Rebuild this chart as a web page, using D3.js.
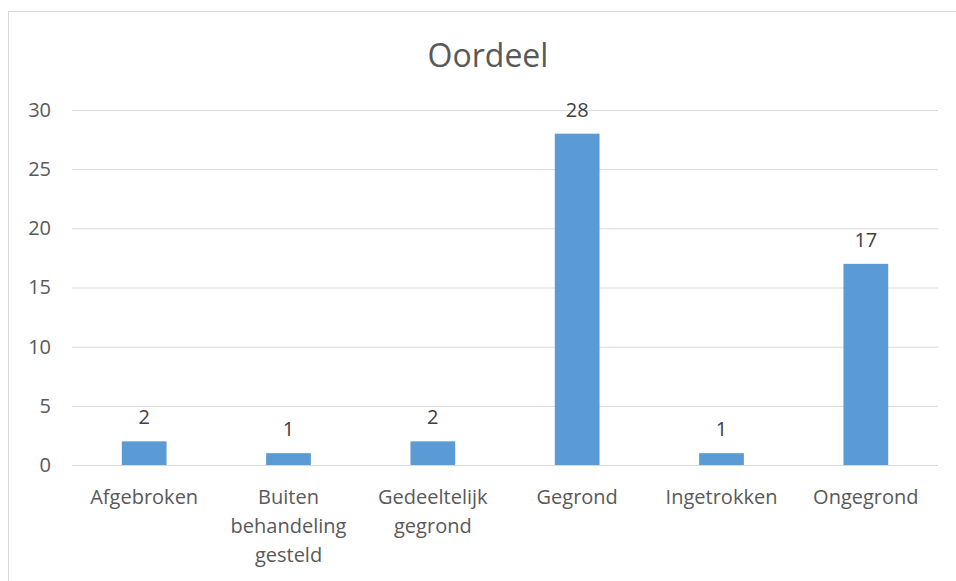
<!DOCTYPE html>
<html>
<head>
<meta charset="utf-8">
<script src="https://cdn.jsdelivr.net/npm/d3@7"></script>
<style>
  body { margin: 0; background: #fff; }
  svg text { font-family: "Open Sans", "Noto Sans", sans-serif; fill: #595959; }
</style>
</head>
<body>
<div id="chart"></div>
<script>
var categories = ['Afgebroken', 'Buiten behandeling gesteld', 'Gedeeltelijk gegrond', 'Gegrond', 'Ingetrokken', 'Ongegrond']
var labelLines = [['Afgebroken'], ['Buiten', 'behandeling', 'gesteld'], ['Gedeeltelijk', 'gegrond'], ['Gegrond'], ['Ingetrokken'], ['Ongegrond']]
var values = [2, 1, 2, 28, 1, 17]
var yTicks = [0, 5, 10, 15, 20, 25, 30]
var title = 'Oordeel'

var width = 956, height = 581
var margin = {top: 110, right: 18, bottom: 116, left: 72}

var svg = d3.select('#chart').append('svg')
  .attr('width', width)
  .attr('height', height)

// chart border (runs off the right and bottom of the picture)
svg.append('rect')
  .attr('x', 8.5).attr('y', 11.5)
  .attr('width', 1000).attr('height', 700)
  .attr('fill', 'none')
  .attr('stroke', '#d9d9d9')
  .attr('stroke-width', 1)

var xScale = d3.scaleBand()
  .domain(categories)
  .range([margin.left, width - margin.right])
  .paddingInner(0.69)
  .paddingOuter(0.345)

var yScale = d3.scaleLinear()
  .domain([0, 30])
  .range([height - margin.bottom, margin.top])

var g = svg.append('g')

// gridlines
var yAxis = d3.axisLeft(yScale)
  .tickValues(yTicks)
  .tickSize(-(width - margin.right - margin.left))
  .tickPadding(21)

g.append('g')
  .attr('transform', 'translate(' + margin.left + ',0)')
  .call(yAxis)
  .call(function(sel) {
    sel.select('.domain').remove()
    sel.selectAll('line').attr('stroke', '#d9d9d9').attr('stroke-width', 1)
    sel.selectAll('text')
      .style('font-size', '20px')
      .style('font-family', '"Open Sans", sans-serif')
      .attr('fill', '#595959')
  })

// bars
g.selectAll('.bar')
  .data(values)
  .enter()
  .append('rect')
  .attr('class', 'bar')
  .attr('x', (d, i) => xScale(categories[i]))
  .attr('y', d => yScale(d))
  .attr('width', xScale.bandwidth())
  .attr('height', d => yScale(0) - yScale(d))
  .attr('fill', '#5b9bd5')

// data labels
g.selectAll('.val')
  .data(values)
  .enter()
  .append('text')
  .attr('class', 'val')
  .attr('x', (d, i) => xScale(categories[i]) + xScale.bandwidth() / 2)
  .attr('y', d => yScale(d) - 17)
  .attr('text-anchor', 'middle')
  .style('font-size', '20px')
  .style('fill', '#404040')
  .text(d => d)

// category labels
var catLabels = g.selectAll('.cat')
  .data(categories)
  .enter()
  .append('text')
  .attr('class', 'cat')
  .attr('text-anchor', 'middle')
  .attr('transform', d => 'translate(' + (xScale(d) + xScale.bandwidth() / 2) + ',' + (yScale(0) + 39) + ')')
  .style('font-size', '20px')

catLabels.each(function(d, i) {
  d3.select(this).selectAll('tspan')
    .data(labelLines[i])
    .enter()
    .append('tspan')
    .attr('x', 0)
    .attr('dy', (t, j) => j === 0 ? 0 : 29)
    .text(t => t)
})

// title
svg.append('text')
  .attr('x', 488)
  .attr('y', 67)
  .attr('text-anchor', 'middle')
  .style('font-size', '32px')
  .text(title)
</script>
</body>
</html>
